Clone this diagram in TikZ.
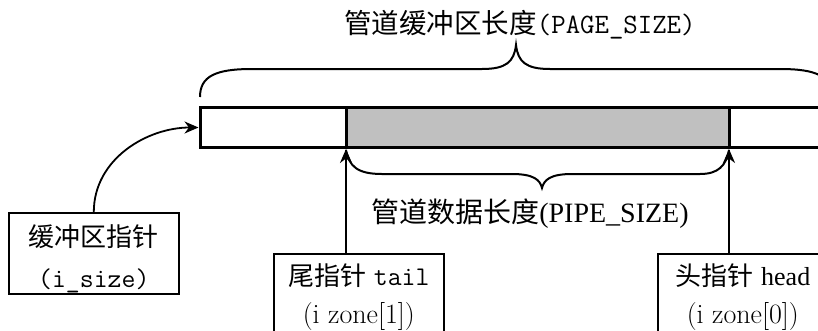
\documentclass[tikz,border=0pt]{standalone}
\usepackage{fontspec}
\newfontfamily\cjk{Noto Sans CJK SC}
\newfontfamily\tms{Liberation Serif}
\usetikzlibrary{arrows.meta}
\tikzset{
  barseg/.style={draw, line width=3pt, minimum height=40pt, inner sep=0pt, outer sep=0pt, anchor=north west},
  infobox/.style={draw, line width=1.6pt, minimum width=170pt, minimum height=81pt, inner sep=0pt,
    anchor=north west, align=center, font=\fontsize{26}{41}\selectfont},
  ptr/.style={line width=1.8pt, -{Stealth[length=14pt,width=12pt,inset=4.5pt]}, shorten >=1.5pt},
  bracepath/.style={line width=2pt},
  lbl/.style={inner sep=0pt, font=\fontsize{27.5}{30}\selectfont}
}
\newcommand{\mytt}{\ttfamily\fontsize{27}{41}\selectfont}
\newcommand{\myrm}{\fontsize{28}{38}\selectfont}
\begin{document}
\begin{tikzpicture}[x=1pt,y=-1pt]
  \useasboundingbox (0,0) rectangle (818,330);
  \fill[white] (0,0) rectangle (818,330);
  \clip (0,0) rectangle (818,330);

  % bar
  \node[barseg, minimum width=146pt] (seg1) at (200,107.5) {};
  \node[barseg, minimum width=383pt, fill={rgb,255:red,192;green,192;blue,192}] (seg2) at (346,107.5) {};
  \node[barseg, minimum width=103pt] (seg3) at (729,107.5) {};

  % top brace
  \draw[bracepath] (200,97) .. controls (200,76) and (216,69) .. (252,69) -- (482,69)
    .. controls (506,69) and (514,62) .. (516,45)
    .. controls (518,62) and (526,69) .. (550,69) -- (780,69)
    .. controls (816,69) and (832,76) .. (832,97);
  \node[lbl] (title) at (520,25) {{\cjk 管道缓冲区长度}{\ttfamily\fontsize{28}{30}\selectfont(PAGE\_SIZE)}};

  % lower brace
  \draw[bracepath] (346,150) .. controls (349,166) and (357,174) .. (382,174) -- (512,174)
    .. controls (534,174) and (540,180) .. (542,188)
    .. controls (544,180) and (550,174) .. (572,174) -- (700,174)
    .. controls (718,174) and (726,166) .. (729,150);
  \node[lbl, font=\fontsize{28}{30}\selectfont] (pipe) at (530,214) {{\cjk 管道数据长度}{\tms(PIPE\_SIZE)}};

  % boxes
  \node[infobox] (ibox) at (8,212) {\rule{0pt}{32pt}{\cjk 缓冲区指针}\\{\mytt(i\_size)}};
  \node[infobox, font=\fontsize{26}{38}\selectfont] (tbox) at (273,253) {\rule{0pt}{28pt}{\cjk 尾指针} {\mytt tail}\\{\myrm(i\ zone[1])}};
  \node[infobox, font=\fontsize{26}{38}\selectfont] (hbox) at (657,253) {\rule{0pt}{28pt}{\cjk 头指针} {\tms head}\\{\myrm(i\ zone[0])}};

  % pointers
  \draw[ptr] (ibox.north) to[out=90,in=180] (seg1.west);
  \draw[ptr] (seg2.south west |- tbox.north) -- (seg2.south west);
  \draw[ptr] (seg3.south west |- hbox.north) -- (seg3.south west);
\end{tikzpicture}
\end{document}
